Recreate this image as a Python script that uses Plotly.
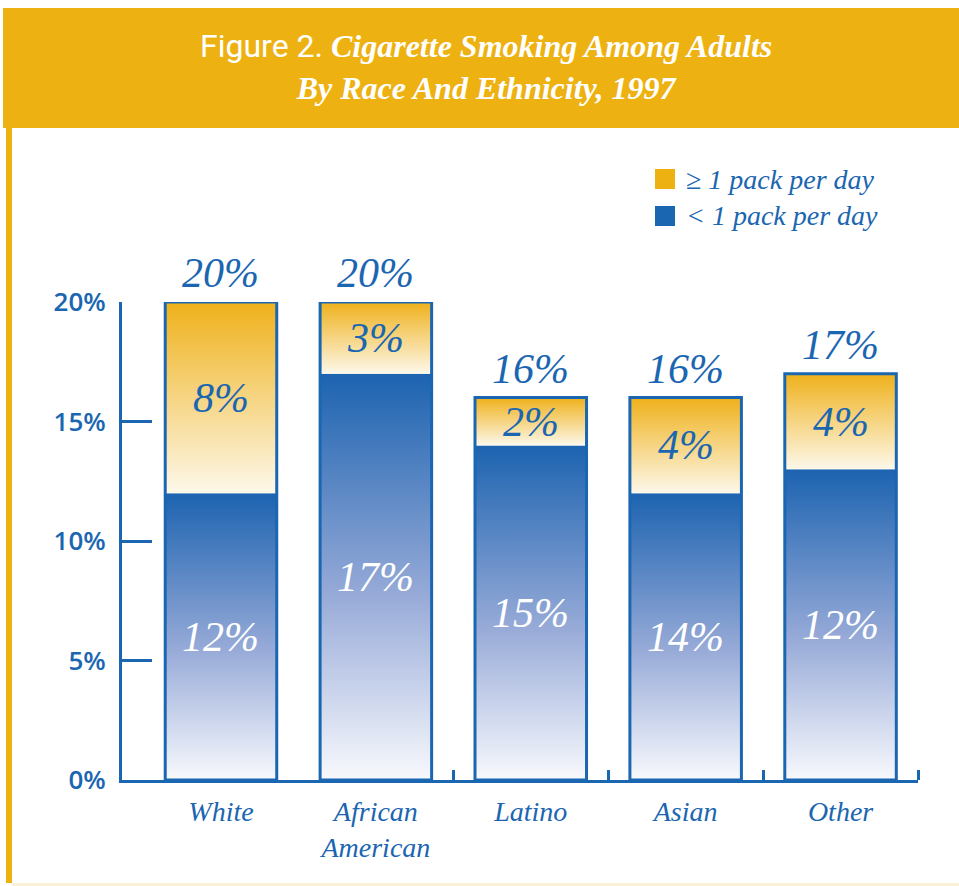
import plotly.graph_objects as go

# ---------------- data ----------------
categories = ["White", "African<br>American", "Latino", "Asian", "Other"]
lower_values = [12, 17, 14, 12, 13]          # "< 1 pack per day" segment heights (as drawn)
upper_values = [8, 3, 2, 4, 4]               # ">= 1 pack per day" segment heights (as drawn)
lower_labels = ["12%", "17%", "15%", "14%", "12%"]
upper_labels = ["8%", "3%", "2%", "4%", "4%"]
total_labels = ["20%", "20%", "16%", "16%", "17%"]
y_tick_values = [0, 5, 10, 15, 20]
y_tick_labels = ["0%", "5%", "10%", "15%", "20%"]
legend_labels = ["\u2265 1 pack per day", "< 1 pack per day"]

# ---------------- style ----------------
BLUE = "#1b66b1"
GOLD = "#edb212"
W, H = 959, 886
ML, MR, MT, MB = 122, 41, 302, 106
PW, PH = W - ML - MR, H - MT - MB
HALF = 0.36
SERIF = "Liberation Serif, DejaVu Serif, serif"
SANS = "Open Sans, Lato, sans-serif"

blue_scale = [[0, "#f8f9fd"], [0.45, "#98abd8"], [1, "#1c63b0"]]
gold_scale = [[0, "#fdf8ea"], [1, "#efb11b"]]


def px_x(p):
    return (p - ML) / PW


def px_y(p):
    return (H - MB - p) / PH


fig = go.Figure()

for i, (lo, up) in enumerate(zip(lower_values, upper_values)):
    xs = [i - HALF, i + HALF, i + HALF, i - HALF, i - HALF]
    fig.add_trace(go.Scatter(
        x=xs, y=[0, 0, lo, lo, 0], mode="lines", fill="toself",
        line=dict(width=0), fillgradient=dict(type="vertical", colorscale=blue_scale),
        showlegend=False, hoverinfo="skip"))
    fig.add_trace(go.Scatter(
        x=xs, y=[lo, lo, lo + up, lo + up, lo], mode="lines", fill="toself",
        line=dict(width=0), fillgradient=dict(type="vertical", colorscale=gold_scale),
        showlegend=False, hoverinfo="skip"))
    fig.add_trace(go.Scatter(
        x=xs, y=[0, 0, lo + up, lo + up, 0], mode="lines",
        line=dict(color=BLUE, width=3), showlegend=False, hoverinfo="skip"))

    # labels
    fig.add_annotation(x=i, y=lo / 2, text=lower_labels[i], showarrow=False,
                       font=dict(family=SERIF, size=42, color="white", style="italic"))
    fig.add_annotation(x=i, y=lo + up / 2, text=upper_labels[i], showarrow=False,
                       font=dict(family=SERIF, size=42, color=BLUE, style="italic"))
    fig.add_annotation(x=i, y=lo + up, text=total_labels[i], showarrow=False,
                       yanchor="bottom", yshift=4,
                       font=dict(family=SERIF, size=42, color=BLUE, style="italic"))

# ---------------- frame / banner ----------------
shapes = [
    dict(type="rect", xref="paper", yref="paper", x0=px_x(3), x1=px_x(W), y0=px_y(128), y1=px_y(8),
         fillcolor=GOLD, line=dict(width=0), layer="below"),
    dict(type="rect", xref="paper", yref="paper", x0=px_x(6), x1=px_x(12), y0=px_y(883), y1=px_y(128),
         fillcolor=GOLD, line=dict(width=0), layer="below"),
    dict(type="rect", xref="paper", yref="paper", x0=px_x(12), x1=px_x(W), y0=px_y(886), y1=px_y(883),
         fillcolor="#fbf0d8", line=dict(width=0), layer="below"),
]

# legend (squares + text)
legend_colors = [GOLD, BLUE]
for k, (lab, col) in enumerate(zip(legend_labels, legend_colors)):
    top = 169 + 37 * k
    shapes.append(dict(type="rect", xref="paper", yref="paper",
                       x0=px_x(655), x1=px_x(675), y0=px_y(top + 20), y1=px_y(top),
                       fillcolor=col, line=dict(width=0)))
    fig.add_annotation(xref="paper", yref="paper", x=px_x(684), y=px_y(top + 10),
                       xanchor="left", yanchor="middle", text=lab, showarrow=False,
                       font=dict(family=SERIF, size=28, color=BLUE, style="italic"))

title_html = ("<span style='font-family:Roboto, sans-serif;font-style:normal;font-weight:normal'>Figure 2.</span> "
              "<b><i>Cigarette Smoking Among Adults</i></b><br><b><i>By Race And Ethnicity, 1997</i></b>")
fig.add_annotation(xref="paper", yref="paper", x=px_x(486), y=px_y(67), text=title_html,
                   showarrow=False, xanchor="center", yanchor="middle",
                   font=dict(family=SERIF, size=32, color="white"))

fig.update_layout(
    width=W, height=H,
    margin=dict(l=ML, r=MR, t=MT, b=MB),
    paper_bgcolor="white", plot_bgcolor="white",
    shapes=shapes,
    showlegend=False,
    xaxis=dict(
        range=[-0.639, 4.5], showgrid=False, zeroline=False,
        showline=True, linecolor=BLUE, linewidth=3,
        tickmode="array", tickvals=list(range(len(categories))), ticktext=categories,
        ticks="", ticklabelstandoff=4,
        tickfont=dict(family=SERIF, size=28, color=BLUE, style="italic"),
        minor=dict(tickmode="array", tickvals=[1.5, 2.5, 3.5, 4.5], ticks="inside",
                   ticklen=10, tickwidth=3, tickcolor=BLUE, showgrid=False),
        fixedrange=True,
    ),
    yaxis=dict(
        range=[0, 20], showgrid=False, zeroline=False,
        showline=True, linecolor=BLUE, linewidth=3,
        tickmode="array", tickvals=y_tick_values, ticktext=y_tick_labels,
        ticks="inside", ticklen=30, tickwidth=3, tickcolor=BLUE,
        ticklabelstandoff=8,
        tickfont=dict(family=SANS, size=26, color=BLUE, weight=600),
        fixedrange=True,
    ),
)

fig.write_html("out.html", config={"displayModeBar": False},
               post_script="document.body.style.margin='0';")
